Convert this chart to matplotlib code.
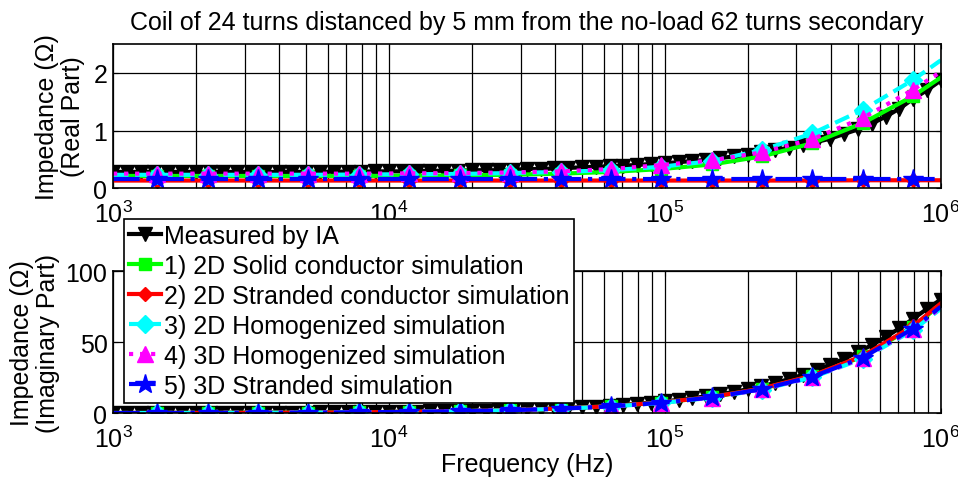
import matplotlib
matplotlib.use('Agg')
import matplotlib.pyplot as plt
from matplotlib.ticker import LogLocator, NullFormatter

plt.rcParams['font.family'] = ['Liberation Sans', 'DejaVu Sans']
plt.rcParams['mathtext.fontset'] = 'custom'
plt.rcParams['mathtext.rm'] = 'Liberation Sans'

# measured sweep (impedance analyser)
freq_meas = [
    1000, 1122, 1259, 1413, 1585, 1778, 1995, 2239, 2512, 2818,
    3162, 3548, 3981, 4467, 5012, 5623, 6310, 7079, 7943, 8913,
    10000, 11220, 12590, 14130, 15850, 17780, 19950, 22390, 25120, 28180,
    31620, 35480, 39810, 44670, 50120, 56230, 63100, 70790, 79430, 89130,
    100000, 112200, 125900, 141300, 158500, 177800, 199500, 223900, 251200, 281800,
    316200, 354800, 398100, 446700, 501200, 562300, 631000, 707900, 794300, 891300,
    1000000
]
real_meas = [
    0.28, 0.28, 0.28, 0.28, 0.28, 0.28, 0.28, 0.28, 0.28, 0.28,
    0.28, 0.28, 0.28, 0.28, 0.28, 0.28, 0.285, 0.285, 0.285, 0.29,
    0.29, 0.29, 0.29, 0.30, 0.30, 0.30, 0.31, 0.31, 0.31, 0.32,
    0.33, 0.33, 0.34, 0.35, 0.36, 0.37, 0.38, 0.39, 0.40, 0.42,
    0.43, 0.45, 0.47, 0.49, 0.52, 0.55, 0.58, 0.62, 0.66, 0.70,
    0.74, 0.80, 0.86, 0.94, 1.02, 1.12, 1.24, 1.38, 1.55, 1.70,
    1.87
]
imag_meas = [
    0.08, 0.09, 0.10, 0.12, 0.13, 0.15, 0.17, 0.19, 0.21, 0.23,
    0.26, 0.29, 0.33, 0.37, 0.42, 0.47, 0.52, 0.59, 0.66, 0.74,
    0.83, 0.93, 1.04, 1.17, 1.32, 1.48, 1.66, 1.86, 2.08, 2.34,
    2.62, 2.94, 3.30, 3.71, 4.16, 4.67, 5.24, 5.88, 6.59, 7.40,
    8.3, 9.4, 10.5, 11.9, 13.3, 15.0, 16.8, 18.9, 21.3, 24.0,
    27.0, 30.4, 34.2, 38.4, 43.0, 48.0, 53.6, 59.8, 66.5, 73.5,
    80.0
]

# simulation frequencies
freq_sim = [1000, 1445, 2203, 3350, 5105, 7780, 11830, 18030, 27480, 41880,
            63680, 97050, 147900, 224900, 342800, 522400, 794300, 1000000]

real_solid2d = [0.21, 0.21, 0.21, 0.21, 0.21, 0.21, 0.215, 0.22, 0.23, 0.25,
                0.28, 0.33, 0.41, 0.55, 0.78, 1.13, 1.60, 1.92]
real_strand2d = [0.13, 0.13, 0.13, 0.13, 0.13, 0.13, 0.13, 0.13, 0.13, 0.13,
                 0.13, 0.13, 0.13, 0.13, 0.13, 0.135, 0.135, 0.135]
real_homog2d = [0.23, 0.23, 0.23, 0.23, 0.23, 0.235, 0.24, 0.245, 0.26, 0.28,
                0.31, 0.37, 0.47, 0.66, 0.95, 1.36, 1.88, 2.22]
real_homog3d = [0.25, 0.25, 0.25, 0.25, 0.25, 0.25, 0.255, 0.26, 0.27, 0.29,
                0.33, 0.40, 0.48, 0.62, 0.85, 1.22, 1.71, 2.02]
real_strand3d = [0.15, 0.15, 0.15, 0.15, 0.15, 0.15, 0.15, 0.15, 0.15, 0.15,
                 0.15, 0.15, 0.15, 0.15, 0.15, 0.15, 0.15, 0.15]

imag_solid2d = [0.077, 0.11, 0.17, 0.26, 0.39, 0.59, 0.91, 1.38, 2.10, 3.20,
                4.88, 7.45, 11.3, 17.2, 26.2, 40.0, 60.8, 76.5]
imag_strand2d = [0.077, 0.11, 0.17, 0.26, 0.39, 0.60, 0.91, 1.39, 2.12, 3.23,
                 4.92, 7.52, 11.4, 17.4, 26.5, 40.4, 61.4, 77.3]
imag_homog2d = [0.074, 0.11, 0.16, 0.25, 0.37, 0.57, 0.87, 1.32, 2.02, 3.08,
                4.68, 7.15, 10.9, 16.6, 25.2, 38.4, 58.4, 73.5]
imag_homog3d = [0.074, 0.11, 0.16, 0.25, 0.38, 0.57, 0.88, 1.34, 2.04, 3.11,
                4.73, 7.23, 11.0, 16.7, 25.4, 38.8, 59.0, 74.3]
imag_strand3d = [0.075, 0.11, 0.165, 0.25, 0.38, 0.58, 0.89, 1.35, 2.06, 3.14,
                 4.78, 7.30, 11.1, 16.9, 25.7, 39.2, 59.6, 75.0]

labels = ['Measured by IA',
          '1) 2D Solid conductor simulation',
          '2) 2D Stranded conductor simulation',
          '3) 2D Homogenized simulation',
          '4) 3D Homogenized simulation',
          '5) 3D Stranded simulation']

FS = 18

fig = plt.figure(figsize=(9.58, 4.81), dpi=100)
ax1 = fig.add_axes([0.118, 0.607, 0.864, 0.299])
ax2 = fig.add_axes([0.118, 0.139, 0.864, 0.295])

marks = slice(1, 17)


def draw(ax, meas, sims):
    ax.plot(freq_meas, meas, '-', color='black', lw=3, marker='v',
            ms=10, mfc='black', mec='black', label=labels[0])
    styles = [
        dict(ls='-', color='#00ff00', marker='s', ms=8),
        dict(ls='-', color='red', marker='D', ms=7),
        dict(ls='--', color='cyan', marker='D', ms=9),
        dict(ls=':', color='magenta', marker='^', ms=11),
        dict(ls='-.', color='blue', marker='*', ms=15),
    ]
    for vals, st, lab in zip(sims, styles, labels[1:]):
        ax.plot(freq_sim, vals, lw=3, markevery=marks, label=lab,
                mfc=st['color'], mec=st['color'], **st)

    ax.set_xscale('log')
    ax.set_xlim(1e3, 1e6)
    ax.xaxis.set_major_locator(LogLocator(base=10, numticks=10))
    ax.xaxis.set_minor_locator(LogLocator(base=10, subs=range(2, 10), numticks=20))
    ax.xaxis.set_minor_formatter(NullFormatter())
    ax.grid(True, which='major', axis='both', color='black', lw=0.9)
    ax.grid(True, which='minor', axis='x', color='black', lw=0.9)
    ax.set_axisbelow(True)
    ax.tick_params(which='both', direction='in', top=True, right=True,
                   labelsize=FS)
    ax.tick_params(axis='x', pad=9)
    ax.tick_params(axis='y', pad=4)
    for s in ax.spines.values():
        s.set_linewidth(1.2)


draw(ax1, real_meas, [real_solid2d, real_strand2d, real_homog2d,
                      real_homog3d, real_strand3d])
draw(ax2, imag_meas, [imag_solid2d, imag_strand2d, imag_homog2d,
                      imag_homog3d, imag_strand3d])

ax1.set_ylim(0, 2.5)
ax1.set_yticks([0, 1, 2])
ax2.set_ylim(0, 100)
ax2.set_yticks([0, 50, 100])

ax1.set_ylabel('Impedance (\u03a9)\n(Real Part)', fontsize=FS, linespacing=1.1,
               labelpad=6)
ax2.set_ylabel('Impedance (\u03a9)\n(Imaginary Part)', fontsize=FS, linespacing=1.1,
               labelpad=4)
ax1.set_title('Coil of 24 turns distanced by 5 mm from the no-load 62 turns secondary',
              fontsize=FS, pad=11)
ax2.set_xlabel('Frequency (Hz)', fontsize=FS, labelpad=0)

leg = ax2.legend(loc='upper left', bbox_to_anchor=(0.129, 0.5426),
                 bbox_transform=fig.transFigure, borderaxespad=0,
                 fontsize=FS, frameon=True, fancybox=False, framealpha=1,
                 edgecolor='black', handlelength=1.3, handletextpad=0.1,
                 labelspacing=0.24, borderpad=0.2, markerscale=1.0)
leg.get_frame().set_linewidth(1.2)

fig.savefig('out.png', dpi=100)
